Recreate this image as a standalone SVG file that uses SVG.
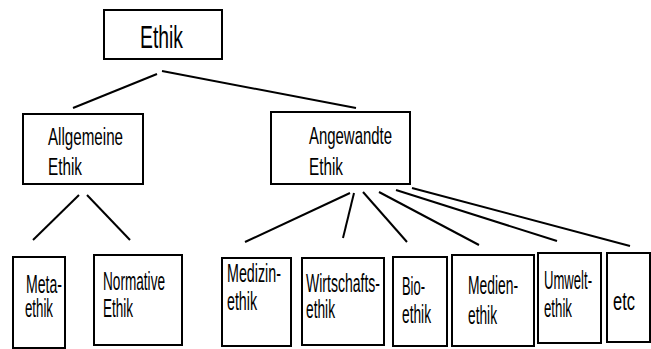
<svg xmlns="http://www.w3.org/2000/svg" width="651" height="349" viewBox="0 0 651 349">
<style>
rect{fill:#fff;stroke:#000;stroke-width:2}
line{stroke:#000;stroke-width:2}
text{font-family:"Liberation Sans",Arial,sans-serif;font-size:25px;fill:#000}
.mid{font-size:23px}
.top{font-size:32px}
</style>
<rect x="0" y="0" width="651" height="349" style="stroke:none"/>
<g id="connectors">
<line x1="157" y1="74" x2="73" y2="108"/>
<line x1="162" y1="71" x2="356" y2="108"/>
<line x1="79" y1="195" x2="33" y2="240"/>
<line x1="87" y1="195" x2="130" y2="240"/>
<line x1="350" y1="193" x2="245" y2="242"/>
<line x1="354" y1="193" x2="343" y2="238"/>
<line x1="363" y1="192" x2="407" y2="242"/>
<line x1="379" y1="192" x2="479" y2="245"/>
<line x1="396" y1="190" x2="557" y2="241"/>
<line x1="412" y1="188" x2="630" y2="246"/>
</g>
<g id="ethik"><rect x="104" y="10" width="118" height="49"/><text class="top" x="140" y="48" textLength="43" lengthAdjust="spacingAndGlyphs">Ethik</text></g>
<g id="allgemeine"><rect x="23" y="114" width="120" height="70"/><text class="mid" x="48" y="145" textLength="75" lengthAdjust="spacingAndGlyphs">Allgemeine</text><text class="mid" x="48" y="175" textLength="34" lengthAdjust="spacingAndGlyphs">Ethik</text></g>
<g id="angewandte"><rect x="271" y="112" width="139" height="72"/><text class="mid" x="309" y="144" textLength="83" lengthAdjust="spacingAndGlyphs">Angewandte</text><text class="mid" x="309" y="175" textLength="34" lengthAdjust="spacingAndGlyphs">Ethik</text></g>
<g id="meta"><rect x="13" y="257" width="52" height="91"/><text x="26" y="293" textLength="36" lengthAdjust="spacingAndGlyphs">Meta-</text><text x="25" y="317" textLength="28" lengthAdjust="spacingAndGlyphs">ethik</text></g>
<g id="normative"><rect x="94" y="255" width="88" height="90"/><text x="103" y="290" textLength="62" lengthAdjust="spacingAndGlyphs">Normative</text><text x="103" y="317" textLength="30" lengthAdjust="spacingAndGlyphs">Ethik</text></g>
<g id="medizin"><rect x="222" y="258" width="69" height="88"/><text x="227" y="282" textLength="54" lengthAdjust="spacingAndGlyphs">Medizin-</text><text x="227" y="310" textLength="30" lengthAdjust="spacingAndGlyphs">ethik</text></g>
<g id="wirtschaft"><rect x="302" y="258" width="82" height="87"/><text x="306" y="292" textLength="74" lengthAdjust="spacingAndGlyphs">Wirtschafts-</text><text x="306" y="318" textLength="29" lengthAdjust="spacingAndGlyphs">ethik</text></g>
<g id="bio"><rect x="393" y="257" width="54" height="89"/><text x="402" y="295" textLength="23" lengthAdjust="spacingAndGlyphs">Bio-</text><text x="402" y="323" textLength="29" lengthAdjust="spacingAndGlyphs">ethik</text></g>
<g id="medien"><rect x="452" y="255" width="82" height="91"/><text x="468" y="294" textLength="50" lengthAdjust="spacingAndGlyphs">Medien-</text><text x="468" y="324" textLength="29" lengthAdjust="spacingAndGlyphs">ethik</text></g>
<g id="umwelt"><rect x="538" y="253" width="63" height="90"/><text x="544" y="289" textLength="48" lengthAdjust="spacingAndGlyphs">Umwelt-</text><text x="544" y="317" textLength="28" lengthAdjust="spacingAndGlyphs">ethik</text></g>
<g id="etc"><rect x="607" y="253" width="43" height="89"/><text x="613" y="310" textLength="22" lengthAdjust="spacingAndGlyphs">etc</text></g>
</svg>
